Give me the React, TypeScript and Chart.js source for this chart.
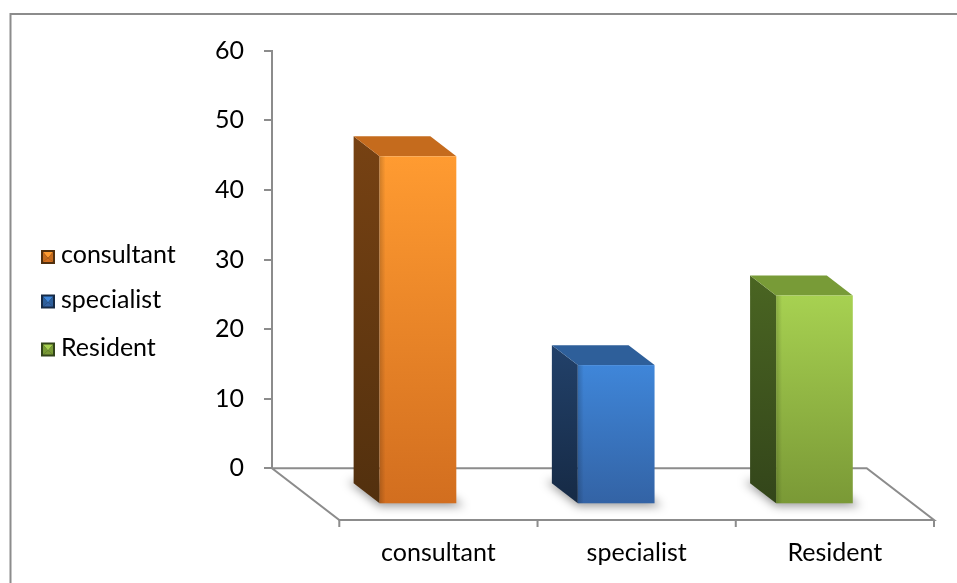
import React, { useEffect, useRef } from "react";
import { Chart, registerables } from "chart.js";

Chart.register(...registerables);

// ---- data ----
const categories = ["consultant", "specialist", "Resident"];
const values = [50, 20, 30];
const yMin = 0;
const yMax = 60;
const yStep = 10;

// ---- colours ----
const frontTop = ["#FF9B31", "#3F86D9", "#A7D151"];
const frontBottom = ["#D26E1F", "#3363A5", "#7A9936"];
const sideTop = ["#774213", "#22416A", "#4A6522"];
const sideBottom = ["#52300E", "#162A45", "#33451A"];
const topFace = ["#C56B1D", "#2E5F9A", "#789B37"];

const FONT = "Lato, 'Open Sans', sans-serif";
const FONT_SIZE = 25;
const AXIS_GRAY = "#8c8c8c";

// 3D geometry (floor depth offset and bar depth placement)
const FDX = 67.3;
const FDY = 51.7;
const D0 = 0.31;
const D1 = 0.696;

function drawMarker(ctx: CanvasRenderingContext2D, x: number, y: number, s: number, i: number) {
  ctx.save();
  ctx.fillStyle = sideBottom[i];
  ctx.fillRect(x, y, s, s);
  const b = 2;
  const cx = x + s / 2;
  const cy = y + s / 2 + 1;
  ctx.fillStyle = frontTop[i];
  ctx.beginPath();
  ctx.moveTo(x + b, y + b);
  ctx.lineTo(x + s - b, y + b);
  ctx.lineTo(cx, cy);
  ctx.closePath();
  ctx.fill();
  ctx.fillStyle = topFace[i];
  ctx.beginPath();
  ctx.moveTo(x + b, y + b);
  ctx.lineTo(cx, cy);
  ctx.lineTo(x + b, y + s - b);
  ctx.closePath();
  ctx.fill();
  ctx.beginPath();
  ctx.moveTo(x + s - b, y + b);
  ctx.lineTo(cx, cy);
  ctx.lineTo(x + s - b, y + s - b);
  ctx.closePath();
  ctx.fill();
  ctx.fillStyle = frontBottom[i];
  ctx.beginPath();
  ctx.moveTo(x + b, y + s - b);
  ctx.lineTo(cx, cy);
  ctx.lineTo(x + s - b, y + s - b);
  ctx.closePath();
  ctx.fill();
  ctx.restore();
}

const threeD = {
  id: "threeD",
  beforeDraw(chart: any) {
    const { ctx, width, height } = chart;
    ctx.save();
    ctx.fillStyle = "#ffffff";
    ctx.fillRect(0, 0, width, height);
    ctx.strokeStyle = AXIS_GRAY;
    ctx.lineWidth = 2;
    ctx.beginPath();
    ctx.moveTo(10.5, height + 5);
    ctx.lineTo(10.5, 14);
    ctx.lineTo(width + 5, 14);
    ctx.stroke();
    ctx.restore();
  },
  beforeDatasetsDraw(chart: any) {
    const { ctx } = chart;
    const xs = chart.scales.x;
    const ys = chart.scales.y;
    const bl = xs.left;
    const br = xs.right;
    const by = ys.getPixelForValue(0);
    ctx.save();
    ctx.strokeStyle = AXIS_GRAY;
    ctx.lineWidth = 2;
    ctx.lineJoin = "miter";
    ctx.beginPath();
    ctx.moveTo(bl, by);
    ctx.lineTo(br, by);
    ctx.lineTo(br + FDX, by + FDY);
    ctx.lineTo(bl + FDX, by + FDY);
    ctx.closePath();
    ctx.stroke();
    const n = categories.length;
    ctx.beginPath();
    for (let i = 0; i <= n; i++) {
      const x = bl + FDX + ((br - bl) * i) / n;
      ctx.moveTo(x, by + FDY);
      ctx.lineTo(x, by + FDY + 7);
    }
    ctx.stroke();
    ctx.restore();
  },
  afterDatasetsDraw(chart: any) {
    const { ctx } = chart;
    const xs = chart.scales.x;
    const meta = chart.getDatasetMeta(0);
    meta.data.forEach((el: any, i: number) => {
      const { x, y, base, width } = el.getProps(["x", "y", "base", "width"], true);
      const bxl = x - width / 2 + D0 * FDX;
      const bxr = bxl + width;
      const byt = y + D0 * FDY;
      const byb = base + D0 * FDY;
      const fxl = x - width / 2 + D1 * FDX;
      const fxr = fxl + width;
      const fyt = y + D1 * FDY;
      const fyb = base + D1 * FDY;

      // shadow on floor
      ctx.save();
      ctx.filter = "blur(5px)";
      ctx.fillStyle = "rgba(0,0,0,0.4)";
      ctx.beginPath();
      ctx.moveTo(bxl - 6, byb - 2);
      ctx.lineTo(bxr, byb - 2);
      ctx.lineTo(fxr + 8, fyb + 3);
      ctx.lineTo(fxl, fyb + 3);
      ctx.closePath();
      ctx.fill();
      ctx.restore();

      ctx.save();
      const sg = ctx.createLinearGradient(0, byt, 0, fyb);
      sg.addColorStop(0, sideTop[i]);
      sg.addColorStop(1, sideBottom[i]);
      ctx.fillStyle = sg;
      ctx.beginPath();
      ctx.moveTo(bxl, byt);
      ctx.lineTo(fxl, fyt);
      ctx.lineTo(fxl, fyb);
      ctx.lineTo(bxl, byb);
      ctx.closePath();
      ctx.fill();

      ctx.fillStyle = topFace[i];
      ctx.beginPath();
      ctx.moveTo(bxl, byt);
      ctx.lineTo(bxr, byt);
      ctx.lineTo(fxr, fyt);
      ctx.lineTo(fxl, fyt);
      ctx.closePath();
      ctx.fill();

      const fg = ctx.createLinearGradient(0, fyt, 0, fyb);
      fg.addColorStop(0, frontTop[i]);
      fg.addColorStop(1, frontBottom[i]);
      ctx.fillStyle = fg;
      ctx.fillRect(fxl, fyt, fxr - fxl, fyb - fyt);

      const eg = ctx.createLinearGradient(fxl, 0, fxl + 6, 0);
      eg.addColorStop(0, "rgba(0,0,0,0.18)");
      eg.addColorStop(1, "rgba(0,0,0,0)");
      ctx.fillStyle = eg;
      ctx.fillRect(fxl, fyt, 6, fyb - fyt);
      ctx.restore();
    });

    const ys = chart.scales.y;
    const by = ys.getPixelForValue(0);
    ctx.save();
    ctx.fillStyle = "#000";
    ctx.font = `${FONT_SIZE}px ${FONT}`;
    ctx.textAlign = "center";
    ctx.textBaseline = "alphabetic";
    categories.forEach((c, i) => {
      ctx.fillText(c, xs.getPixelForValue(i) + FDX, by + FDY + 41);
    });

    ctx.textAlign = "left";
    const rowCenters = [257, 301.5, 349.5];
    categories.forEach((c, i) => {
      const cy = rowCenters[i];
      drawMarker(ctx, 41, cy - 7, 14, i);
      ctx.fillStyle = "#000";
      ctx.textBaseline = "middle";
      ctx.fillText(c, 61, cy - 2);
    });
    ctx.restore();
  },
};

export default function App() {
  const ref = useRef<HTMLCanvasElement | null>(null);
  useEffect(() => {
    if (!ref.current) return;
    const chart = new Chart(ref.current, {
      type: "bar",
      data: {
        labels: categories,
        datasets: [
          {
            data: values,
            backgroundColor: "rgba(0,0,0,0)",
            borderWidth: 0,
            barPercentage: 0.387,
            categoryPercentage: 1,
          },
        ],
      },
      options: {
        responsive: false,
        animation: false,
        devicePixelRatio: 1,
        layout: { padding: { left: 0, top: 50.7, right: 90.3, bottom: 114.7 } },
        plugins: { legend: { display: false }, tooltip: { enabled: false } },
        scales: {
          x: { display: false, offset: true },
          y: {
            min: yMin,
            max: yMax,
            ticks: {
              stepSize: yStep,
              color: "#000",
              padding: 20,
              font: { family: FONT, size: FONT_SIZE },
            },
            grid: {
              drawOnChartArea: false,
              drawTicks: true,
              tickLength: 8,
              color: AXIS_GRAY,
              lineWidth: 2,
            },
            border: { display: true, color: AXIS_GRAY, width: 2 },
            afterFit: (s: any) => {
              s.width = 272;
            },
          },
        },
      },
      plugins: [threeD],
    } as any);
    return () => chart.destroy();
  }, []);
  return (
    <div style={{ position: "absolute", left: 0, top: 0, width: 957, height: 583, overflow: "hidden" }}>
      <canvas ref={ref} width={957} height={583} style={{ display: "block" }} />
    </div>
  );
}
